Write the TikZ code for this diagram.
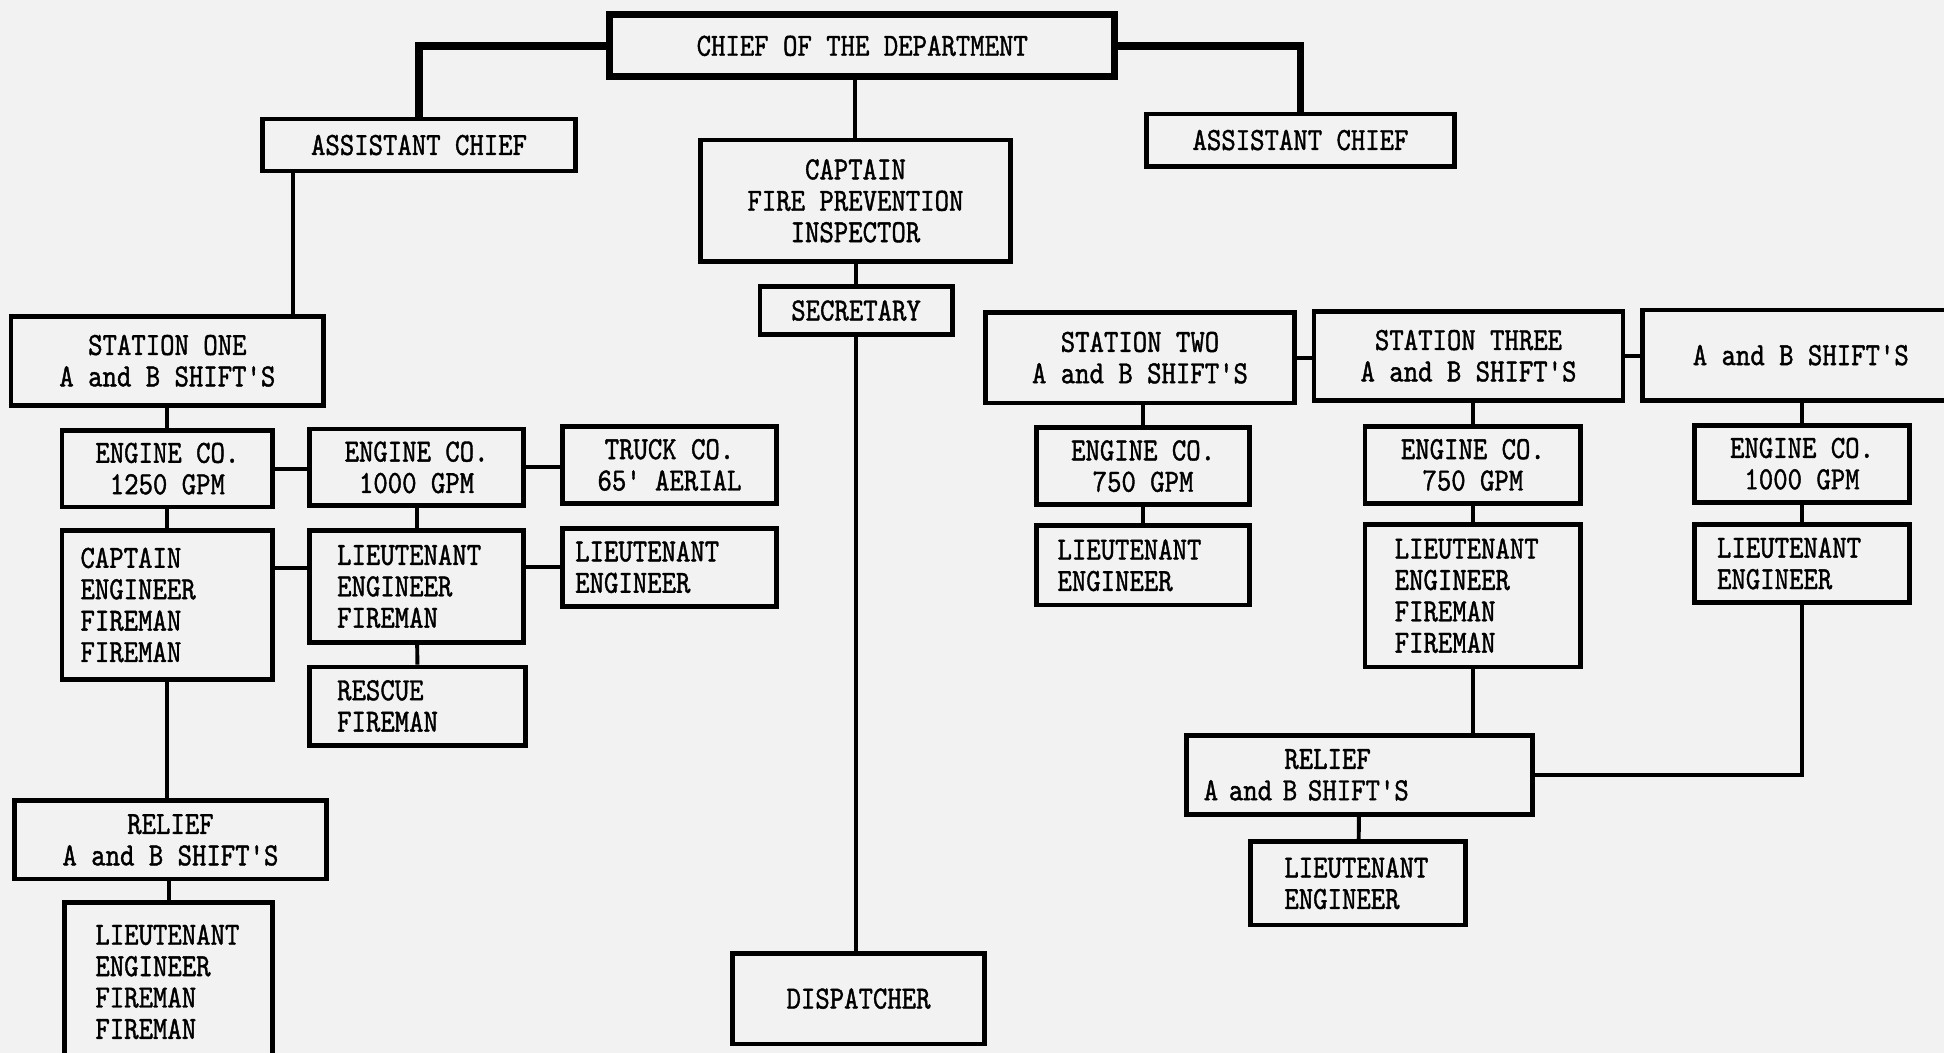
\documentclass[tikz,border=0pt]{standalone}
\usepackage{fontspec}
\newfontfamily\machine[FakeStretch=0.85, FakeBold=1.2]{lmmono10-regular.otf}
\usepackage{tikz}
\usetikzlibrary{calc, positioning}

\begin{document}
\begin{tikzpicture}[
		x=0.01cm, y=-0.01cm,
		boite/.style={draw, rectangle, line width=1.1pt, inner sep=0pt, align=center,
			font=\machine\fontsize{7.4}{7.2}\selectfont},
		gauche/.style 2 args={align=left, text width=#1, inner xsep=#2},
		lien/.style={draw, line width=0.9pt},
		gros/.style={draw, line width=1.7pt},
		]
		
		% Le cadre
		\useasboundingbox (0,0) rectangle (1568,849);
		\clip (0,0) rectangle (1568,849);
		\fill[black!5] (0,0) rectangle (1568,849);
		
		% La direction
		\node[boite, line width=1.6pt, minimum width=4.07cm, minimum height=0.50cm] (chef) at (695.5, 37) {CHIEF OF THE DEPARTMENT};
		\node[boite, minimum width=2.52cm, minimum height=0.42cm] (adj1) at (338, 117) {ASSISTANT CHIEF};
		\node[boite, minimum width=2.48cm, minimum height=0.42cm] (adj2) at (1049, 113) {ASSISTANT CHIEF};
		\node[boite, minimum width=2.50cm, minimum height=0.98cm] (prev) at (690, 162) {CAPTAIN\\FIRE PREVENTION\\INSPECTOR};
		\node[boite, minimum width=1.55cm, minimum height=0.39cm] (secr) at (690.5, 250.5) {SECRETARY};
		\node[boite, minimum width=2.03cm, minimum height=0.73cm] (disp) at (692.5, 805.5) {DISPATCHER};
		
		% Station un
		\node[boite, minimum width=2.52cm, minimum height=0.72cm] (st1) at (135, 291) {STATION ONE\\A and B SHIFT'S};
		\node[boite, minimum width=1.70cm, minimum height=0.62cm] (e1250) at (135, 378) {ENGINE CO.\\1250 GPM};
		\node[boite, minimum width=1.72cm, minimum height=0.62cm] (e1000a) at (336, 377) {ENGINE CO.\\1000 GPM};
		\node[boite, minimum width=1.72cm, minimum height=0.62cm] (camion) at (540, 375) {TRUCK CO.\\65' AERIAL};
		\node[boite, gauche={1.40cm}{0.15cm}, minimum height=1.20cm] (eq1) at (135, 488) {CAPTAIN\\ENGINEER\\FIREMAN\\FIREMAN};
		\node[boite, gauche={1.28cm}{0.22cm}, minimum height=0.90cm] (eq2) at (336, 473) {LIEUTENANT\\ENGINEER\\FIREMAN};
		\node[boite, gauche={1.52cm}{0.10cm}, minimum height=0.63cm] (eq3) at (540, 457.5) {LIEUTENANT\\ENGINEER};
		\node[boite, gauche={1.30cm}{0.22cm}, minimum height=0.63cm] (secours) at (337, 569.5) {RESCUE\\FIREMAN};
		\node[boite, minimum width=2.51cm, minimum height=0.63cm] (rel1) at (137.5, 677.5) {RELIEF\\A and B SHIFT'S};
		\node[boite, gauche={1.18cm}{0.25cm}, minimum height=1.28cm] (eqr1) at (136, 792) {LIEUTENANT\\ENGINEER\\FIREMAN\\FIREMAN};
		
		% Stations deux et trois
		\node[boite, minimum width=2.49cm, minimum height=0.73cm] (st2) at (919.5, 288.5) {STATION TWO\\A and B SHIFT'S};
		\node[boite, minimum width=2.49cm, minimum height=0.72cm] (st3) at (1184.5, 287) {STATION THREE\\A and B SHIFT'S};
		\node[boite, minimum width=2.55cm, minimum height=0.73cm] (st4) at (1452.5, 286.5) {A and B SHIFT'S};
		\node[boite, minimum width=1.72cm, minimum height=0.62cm] (e750a) at (922, 376) {ENGINE CO.\\750 GPM};
		\node[boite, minimum width=1.74cm, minimum height=0.62cm] (e750b) at (1188, 375) {ENGINE CO.\\750 GPM};
		\node[boite, minimum width=1.73cm, minimum height=0.62cm] (e1000b) at (1453.5, 374) {ENGINE CO.\\1000 GPM};
		\node[boite, gauche={1.38cm}{0.17cm}, minimum height=0.64cm] (eq4) at (922, 456) {LIEUTENANT\\ENGINEER};
		\node[boite, gauche={1.26cm}{0.24cm}, minimum height=1.15cm] (eq5) at (1188, 480.5) {LIEUTENANT\\ENGINEER\\FIREMAN\\FIREMAN};
		\node[boite, gauche={1.37cm}{0.18cm}, minimum height=0.63cm] (eq6) at (1453.5, 454.5) {LIEUTENANT\\ENGINEER};
		\node[boite, gauche={2.51cm}{0.14cm}, minimum height=0.64cm] (rel2) at (1096.5, 625) {\hspace*{0.65cm}RELIEF\\A and B SHIFT'S};
		\node[boite, gauche={1.19cm}{0.27cm}, minimum height=0.67cm] (eq7) at (1095.5, 712.5) {LIEUTENANT\\ENGINEER};
		
		% Les liens
		\draw[gros] (chef.west) -| (adj1.north);
		\draw[gros] (chef.east) -| (adj2.north);
		\draw[lien] (prev.north) -- (prev.north |- chef.south);
		\draw[lien] (secr.north) -- (secr.north |- prev.south);
		\draw[lien] (secr.south) -- (secr.south |- disp.north);
		\draw[lien] ([xshift=0.26cm]adj1.south west) -- ([xshift=0.26cm]adj1.south west |- st1.north);
		\draw[lien] (st1) -- (e1250);
		\draw[lien] (e1250) -- (eq1);
		\draw[lien] (eq1.south) -- (eq1.south |- rel1.north);
		\draw[lien] (eqr1.north) -- (eqr1.north |- rel1.south);
		\draw[lien] (e1250.east) -- (e1250.east -| e1000a.west);
		\draw[lien] (e1000a.east) -- (e1000a.east -| camion.west);
		\draw[lien] (e1000a) -- (eq2);
		\draw[lien] (eq2) -- (secours);
		\draw[lien] ([yshift=0.15cm]eq2.west) -- ([yshift=0.15cm]eq2.west -| eq1.east);
		\draw[lien] (eq3.west) -- (eq3.west -| eq2.east);
		\draw[lien] (st2.east) -- (st2.east -| st3.west);
		\draw[lien] (st3.east) -- (st3.east -| st4.west);
		\draw[lien] (e750a.north) -- (e750a.north |- st2.south);
		\draw[lien] (e750b.north) -- (e750b.north |- st3.south);
		\draw[lien] (e1000b.north) -- (e1000b.north |- st4.south);
		\draw[lien] (e750a) -- (eq4);
		\draw[lien] (e750b) -- (eq5);
		\draw[lien] (e1000b) -- (eq6);
		\draw[lien] (eq5.south) -- (eq5.south |- rel2.north);
		\draw[lien] (eq6.south) |- (rel2.east);
		\draw[lien] (rel2) -- (eq7);
	\end{tikzpicture}
\end{document}
